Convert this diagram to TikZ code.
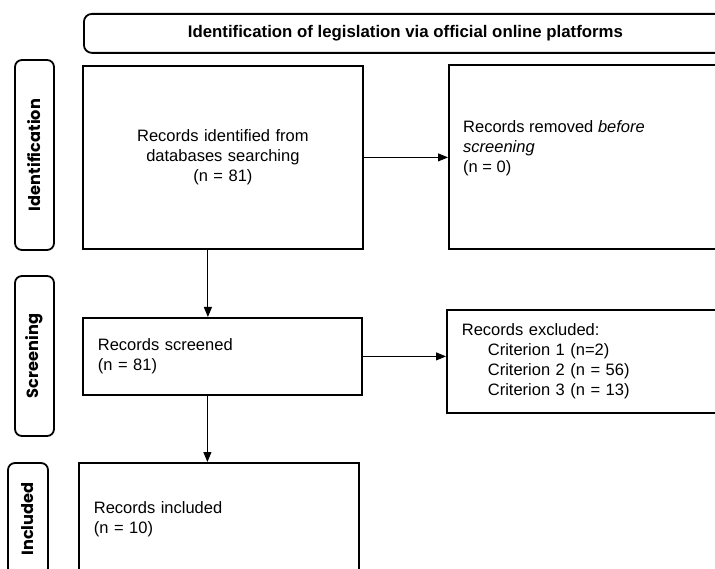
\documentclass[tikz,border=0pt]{standalone}
\usepackage{fontspec}
\setmainfont{Liberation Sans}
\newfontfamily\stagefont{Poppins}
\usetikzlibrary{arrows.meta}
\tikzset{
    record-box/.style = {draw=black, line width=1.8pt, rectangle, inner xsep=15pt, inner ysep=0pt, anchor=north west, font=\fontsize{16.5}{20}\selectfont},
    record-text/.style = {inner sep=0pt, align=left, font=\fontsize{16.5}{20}\selectfont},
    head-box/.style = {draw=black, line width=1.8pt, rectangle, rounded corners=8pt, anchor=north west, font=\bfseries\fontsize{16.8}{20}\selectfont},
    stage-label/.style = {draw=black, line width=1.8pt, rectangle, rounded corners=7pt, rotate=90, inner sep=0pt, font=\stagefont\bfseries\fontsize{16.2}{18}\selectfont},
    flow-arrow/.style = {-{Triangle[length=10pt,width=8pt]}, line width=1pt},
}
\begin{document}
\begin{tikzpicture}[x=1pt, y=-1pt]
\useasboundingbox (0,0) rectangle (715,569);
\fill[white] (0,0) rectangle (715,569);

% header
\node[head-box, minimum width=643pt, minimum height=39pt] (head) at (83,13) {Identification of legislation via official online platforms};

% stages on the left
\node[stage-label, minimum width=190pt, minimum height=39pt] (ident) at (34.5,155) {Identification};
\node[stage-label, minimum width=160pt, minimum height=39pt] (screen) at (34.5,356) {Screening};
\node[stage-label, minimum width=112pt, minimum height=40pt] (incl) at (28,519) {Included};

% records
\node[record-box, align=center, text width=250pt, minimum height=183pt] (found) at (82,65) {Records identified from\\databases searching\\(n = 81)};
\node[record-box, minimum width=282pt, minimum height=184pt] (removed) at (448,64) {};
\node[record-text, anchor=west] at ([xshift=15pt, yshift=9pt]removed.west) {Records removed \textit{before}\\\textit{screening}\\(n = 0)};
\node[record-box, align=left, text width=249pt, minimum height=77pt] (screened) at (82,317) {Records screened\\(n = 81)};
\node[record-box, align=left, text width=254pt, minimum height=103pt] (excluded) at (446,309) {Records excluded:\\\hspace*{26pt}Criterion 1 (n=2)\\\hspace*{26pt}Criterion 2 (n = 56)\\\hspace*{26pt}Criterion 3 (n = 13)};
\node[record-box, align=left, text width=250pt, minimum height=112pt] (included) at (78,462) {Records included\\(n = 10)};

% arrows
\draw[flow-arrow] (found.east) -- (found.east -| removed.west);
\draw[flow-arrow] (screened.east) -- (screened.east -| excluded.west);
\draw[flow-arrow] ([xshift=-15pt]found.south) -- ([xshift=-15pt]found.south |- screened.north);
\draw[flow-arrow] ([xshift=-15pt]screened.south) -- ([xshift=-15pt]screened.south |- included.north);
\end{tikzpicture}
\end{document}
